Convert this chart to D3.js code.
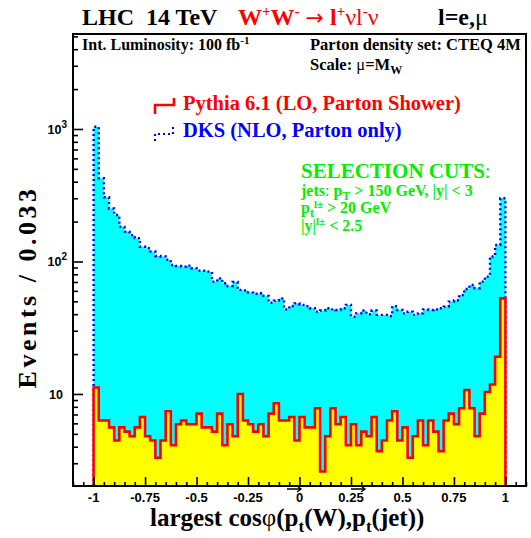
<!DOCTYPE html>
<html><head><meta charset="utf-8">
<script src="https://cdn.jsdelivr.net/npm/d3@7"></script>
<style>
body{margin:0;background:#fff}
text{white-space:pre}
.serif{font-family:"Liberation Serif","Times New Roman",serif;font-weight:bold}
.sans{font-family:"Liberation Sans",Arial,sans-serif;font-weight:bold}
</style>
</head><body>
<svg id="c" width="531" height="538"></svg>
<script>
// ---------- data ----------
const binLow = -1;
const binWidth = 0.025;
// DKS (NLO, parton only) – 80 bins from -1 to 1
const dksValues = [
 1040, 425, 305, 251, 224, 183, 168, 158, 150, 129,
 126, 119, 110, 109, 103, 94, 92.5, 91.4, 93, 88.9,
 85.3, 85, 83.8, 70.4, 74.6, 68.4, 65.3, 70, 61, 60.5,
 58.2, 57, 57.6, 55, 48.9, 50.5, 52.7, 43.5, 46.1, 48.3,
 47, 46, 44.4, 41.8, 42.6, 44.4, 43.5, 43, 44.4, 47,
 38.3, 40.6, 42.6, 40, 42.6, 39.5, 39.5, 38.8, 46, 43,
 40.6, 41.8, 39.5, 40.6, 43.5, 43, 43.5, 44.4, 45.5, 49.8,
 51, 55.8, 62, 66.5, 62.8, 70.5, 76.8, 109, 133, 300
];
// Pythia 6.1 (LO, parton shower) – 80 bins from -1 to 1
const pythiaValues = [
 11.2, 6.3, 6.3, 5.6, 4.45, 5.6, 5.2, 4.8, 5.6, 6.7,
 4.8, 4.45, 3.3, 4.45, 7.4, 4.1, 5.9, 6.3, 5.9, 5.9,
 7.1, 5.6, 5.6, 5.2, 7.1, 4.1, 5.9, 4.8, 10, 6.3,
 5.9, 5.2, 5.9, 4.8, 7.1, 8.5, 6.3, 6.3, 6.7, 4.45,
 6.7, 5.6, 5.6, 7.8, 2.6, 4.8, 7.8, 5.9, 6.7, 4.1,
 5.9, 4.1, 5.2, 4.8, 6.7, 3.7, 4.45, 6.3, 7.4, 4.45,
 5.6, 3.3, 4.8, 6.3, 4.1, 6.3, 5.2, 3.7, 6.3, 7.1,
 5.9, 7.8, 10.7, 7.8, 4.8, 7.1, 10.35, 11.8, 19.1, 52.7
];
const xMajorTicks = [-1, -0.75, -0.5, -0.25, 0, 0.25, 0.5, 0.75, 1];
const xTickLabels = ["-1", "-0.75", "-0.5", "-0.25", "0", "0.25", "0.5", "0.75", "1"];
const xMinorStep = 0.05;
const yMajorTicks = [10, 100, 1000];
const yTickBase = ["10", "10", "10"];
const yTickExp = ["", "2", "3"];

// ---------- layout ----------
const frame = {l: 73, r: 526, t: 34, b: 486};
const x = d3.scaleLinear().domain([-1.1, 1.1]).range([frame.l, frame.r]);
const y = d3.scaleLog().domain([2.02, 5210]).range([frame.b, frame.t]);

const svg = d3.select("#c");
svg.append("defs").append("clipPath").attr("id", "clip")
  .append("rect").attr("x", frame.l).attr("y", frame.t)
  .attr("width", frame.r - frame.l).attr("height", frame.b - frame.t);

function histPoints(vals) {
  const pts = [[binLow, null]];
  vals.forEach((v, i) => {
    pts.push([binLow + i * binWidth, v]);
    pts.push([binLow + (i + 1) * binWidth, v]);
  });
  pts.push([binLow + vals.length * binWidth, null]);
  return pts;
}
const line = d3.line()
  .x(d => x(d[0]))
  .y(d => d[1] === null ? frame.b : y(d[1]));

const g = svg.append("g").attr("clip-path", "url(#clip)");
const dksPts = histPoints(dksValues);
const pyPts = histPoints(pythiaValues);

g.append("path").attr("d", line(dksPts) + "Z").attr("fill", "#00ffff").attr("stroke", "none");
g.append("path").attr("d", line(dksPts)).attr("fill", "none")
  .attr("stroke", "#0000ff").attr("stroke-width", 2.4).attr("stroke-dasharray", "2,3");
g.append("path").attr("d", line(pyPts) + "Z").attr("fill", "#ffff00").attr("stroke", "none");
g.append("path").attr("d", line(pyPts)).attr("fill", "none")
  .attr("stroke", "#ff0000").attr("stroke-width", 2.6).attr("stroke-linejoin", "miter");

// ---------- axes ----------
const yMinor = [];
for (let dec = 1; dec <= 1000; dec *= 10) for (let m = 1; m <= 9; m++) {
  const v = m * dec;
  if (v >= 2.02 && v <= 5210 && !yMajorTicks.includes(v)) yMinor.push(v);
}
const xMinor = d3.range(-22, 23).map(k => +(k * xMinorStep).toFixed(3))
  .filter(v => !xMajorTicks.includes(v));

function styleAxis(sel) {
  sel.select(".domain").remove();
  sel.selectAll("line").attr("stroke", "#000").attr("stroke-width", 1.6);
}
svg.append("g").attr("transform", `translate(${frame.l},0)`)
  .call(d3.axisRight(y).tickValues(yMinor).tickSize(5).tickFormat("")).call(styleAxis);
svg.append("g").attr("transform", `translate(${frame.l},0)`)
  .call(d3.axisRight(y).tickValues(yMajorTicks).tickSize(10).tickFormat("")).call(styleAxis);
svg.append("g").attr("transform", `translate(0,${frame.b})`)
  .call(d3.axisTop(x).tickValues(xMinor).tickSize(4).tickFormat("")).call(styleAxis);
svg.append("g").attr("transform", `translate(0,${frame.b})`)
  .call(d3.axisTop(x).tickValues(xMajorTicks).tickSize(9).tickFormat("")).call(styleAxis);

svg.append("rect").attr("x", frame.l).attr("y", frame.t)
  .attr("width", frame.r - frame.l).attr("height", frame.b - frame.t)
  .attr("fill", "none").attr("stroke", "#000").attr("stroke-width", 2);

// tick labels
svg.selectAll(".xl").data(xMajorTicks).enter().append("text")
  .attr("class", "sans").attr("x", d => x(d)).attr("y", 502)
  .attr("text-anchor", "middle").attr("font-size", 13)
  .text((d, i) => xTickLabels[i]);
yMajorTicks.forEach((v, i) => {
  const t = svg.append("text").attr("class", "sans").attr("font-size", 12.5)
    .attr("x", yTickExp[i] ? 67 : 63).attr("y", y(v) + 5).attr("text-anchor", "end");
  t.append("tspan").text(yTickBase[i]);
  if (yTickExp[i]) t.append("tspan").attr("dy", -6).attr("font-size", 10).text(yTickExp[i]);
});

// ---------- titles ----------
function rich(parent, parts, attrs) {
  const t = parent.append("text");
  Object.entries(attrs).forEach(([k, v]) => t.attr(k, v));
  let shift = 0;
  parts.forEach(p => {
    const s = t.append("tspan").text(p.t);
    const target = p.sup ? -p.sup : (p.sub ? p.sub : 0);
    if (target !== shift) { s.attr("dy", target - shift); shift = target; }
    if (p.fs) s.attr("font-size", p.fs);
    if (p.fill) s.attr("fill", p.fill);
    if (p.w) s.attr("font-weight", p.w);
    if (p.ff) s.attr("font-family", p.ff);
  });
  return t;
}
rich(svg, [{t: "LHC  14 TeV"}], {class: "serif", x: 82, y: 25, "font-size": 24});
rich(svg, [
  {t: "W"}, {t: "+", sup: 9, fs: 15}, {t: "W"}, {t: "-", sup: 9, fs: 15},
  {t: " "}, {t: "\u2192", w: "normal", ff: "DejaVu Sans", fs: 22}, {t: " l"}, {t: "+", sup: 9, fs: 15},
  {t: "\u03BDl", w: "normal"}, {t: "-", sup: 9, fs: 15}, {t: "\u03BD", w: "normal"}
], {class: "serif", x: 238, y: 25, "font-size": 24, fill: "#ff0000"});
rich(svg, [{t: "l=e,"}, {t: "\u03BC", w: "normal"}], {class: "serif", x: 438, y: 25, "font-size": 24});

rich(svg, [{t: "Int. Luminosity: 100 fb"}, {t: "-1", sup: 6, fs: 11}],
  {class: "serif", x: 82, y: 50, "font-size": 16});
rich(svg, [{t: "Parton density set: CTEQ 4M"}], {class: "serif", x: 310, y: 50, "font-size": 16.5});
rich(svg, [{t: "Scale: "}, {t: "\u03BC", w: "normal"}, {t: "=M"}, {t: "W", sub: 4, fs: 12}],
  {class: "serif", x: 310, y: 70, "font-size": 16.5});

// legend
svg.append("path").attr("d", "M155,114 V105 H174 V98").attr("fill", "none")
  .attr("stroke", "#ff0000").attr("stroke-width", 2.6);
rich(svg, [{t: "Pythia 6.1 (LO, Parton Shower)"}],
  {class: "serif", x: 183, y: 110, "font-size": 20.5, fill: "#ff0000"});
svg.append("path").attr("d", "M155,141 V134 H173 V127").attr("fill", "none")
  .attr("stroke", "#0000ff").attr("stroke-width", 2.2).attr("stroke-dasharray", "2,3");
rich(svg, [{t: "DKS (NLO, Parton only)"}],
  {class: "serif", x: 183, y: 137, "font-size": 20.5, fill: "#0000ff"});

// selection cuts
const green = "#00ee00";
rich(svg, [{t: "SELECTION CUTS"}, {t: ":", w: "normal"}],
  {class: "serif", x: 301, y: 178, "font-size": 21, fill: green});
rich(svg, [{t: "jets"}, {t: ": ", w: "normal"}, {t: "p"}, {t: "T", sub: 4, fs: 12}, {t: " > 150 GeV, |y| < 3"}],
  {class: "serif", x: 301, y: 196, "font-size": 16, fill: green});
rich(svg, [{t: "p"}, {t: "t", sub: 4, fs: 12}, {t: "l\u00B1", sup: 5, fs: 11}, {t: " > 20 GeV"}],
  {class: "serif", x: 301, y: 213, "font-size": 16, fill: green});
rich(svg, [{t: "|y|"}, {t: "l\u00B1", sup: 6, fs: 11}, {t: " < 2.5"}],
  {class: "serif", x: 301, y: 231, "font-size": 16, fill: green});

// axis titles
rich(svg, [{t: "largest cos"}, {t: "\u03C6", w: "normal"}, {t: "(p"}, {t: "t", sub: 6, fs: 17},
  {t: "(W),p"}, {t: "t", sub: 6, fs: 17}, {t: "(jet))"}],
  {class: "serif", x: 150, y: 526, "font-size": 25});
[[287, 301], [351, 365]].forEach(([a, b]) => {
  svg.append("path").attr("d", `M${a},489 H${b} M${b - 4},486 L${b},489 L${b - 4},492`)
    .attr("fill", "none").attr("stroke", "#000").attr("stroke-width", 1.3);
});
svg.append("text").attr("class", "serif").attr("font-size", 26)
  .attr("letter-spacing", 3.5)
  .attr("transform", "translate(36,287) rotate(-90)").attr("text-anchor", "middle")
  .text("Events / 0.033");
</script>
</body></html>
